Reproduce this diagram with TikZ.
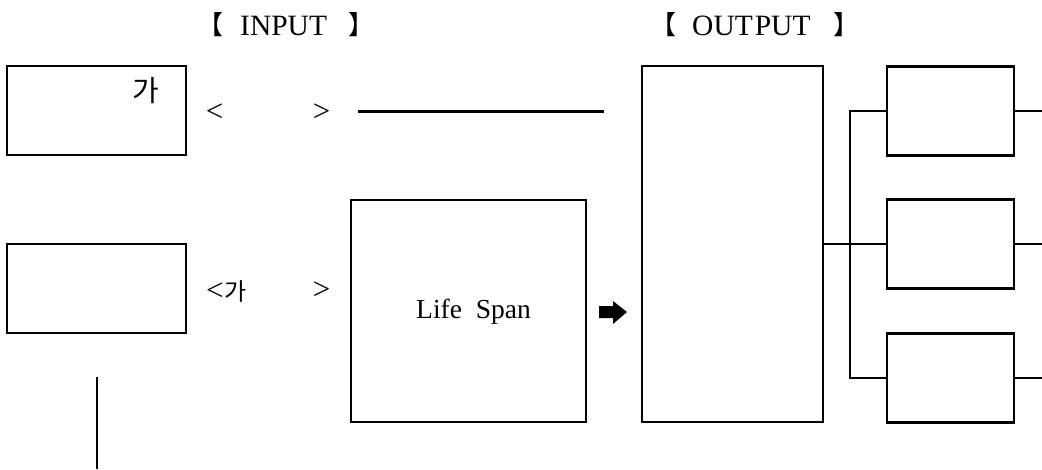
\documentclass[tikz,border=0pt]{standalone}
\usepackage{fontspec}
\setmainfont{Liberation Serif}
\newfontfamily\kr{Noto Sans CJK KR}
\begin{document}
\begin{tikzpicture}[x=1pt,y=-1pt,
  box/.style={draw,line width=2.6pt,inner sep=0pt,outer sep=0pt},
  wire/.style={line width=2.6pt},
  ttl/.style={inner sep=0pt,font=\fontsize{29.5}{32}\selectfont},
  brk/.style={inner sep=0pt,font=\kr\fontsize{26}{30}\selectfont},
  lbl/.style={inner sep=0pt,font=\fontsize{31}{34}\selectfont}]
\useasboundingbox (0,0) rectangle (1042,469);
% titles
\node[ttl,anchor=base west] (tin) at (240,35) {INPUT};
\node[brk,anchor=east] (tinl) at (224,25) {【};
\node[brk,anchor=west] (tinr) at (348,25) {】};
\node[ttl,anchor=base west] (tout) at (692,35) {OUT\hspace{2pt}PUT};
\node[brk,anchor=east] (toutl) at (677,25) {【};
\node[brk,anchor=west] (toutr) at (833,25) {】};
% input boxes
\node[box,minimum width=179pt,minimum height=89pt] (a1) at (96.5,110.5) {};
\node[box,minimum width=179pt,minimum height=89pt] (a2) at (96.5,288.5) {};
\node[inner sep=0pt,font=\kr\fontsize{29}{32}\selectfont] (ga1) at (146,91) {가};
\node[lbl] (lt1) at (214.5,113) {<};
\node[lbl] (gt1) at (321.5,113) {>};
\node[lbl,anchor=west] (lt2) at (206,291) {<\hspace{0.5pt}{\kr\fontsize{24}{28}\selectfont 가}};
\node[lbl] (gt2) at (321.5,291) {>};
\coordinate (v1) at (97,377);
\coordinate (v2) at (97,469);
\draw[wire] (v1) -- (v2);
\coordinate (h1) at (358,111);
\coordinate (h2) at (604,111);
\draw[line width=3pt] (h1) -- (h2);
% life span
\node[box,minimum width=235pt,minimum height=222pt] (ls) at (468.5,311) {};
\node[inner sep=0pt,font=\fontsize{27.5}{30}\selectfont] (lstxt) at (473.5,312) {Life\ \ Span};
% arrow
\fill (599,306) -- (613,306) -- (613,301) -- (627,312) -- (613,324) -- (613,318) -- (599,318) -- cycle;
% output big box
\node[box,minimum width=181pt,minimum height=356pt] (big) at (732.5,244) {};
% small boxes
\node[box,minimum width=127pt,minimum height=89pt] (s1) at (950.5,111) {};
\node[box,minimum width=127pt,minimum height=89pt] (s2) at (950.5,244) {};
\node[box,minimum width=127pt,minimum height=89pt] (s3) at (950.5,378) {};
\coordinate (j1) at (850,111);
\coordinate (j2) at (850,244);
\coordinate (j3) at (850,378);
\draw[wire] (big.east) -- (s2.west);
\draw[wire] (s1.west) -- (j1) -- (j3) -- (s3.west);
\coordinate (r1) at (1042,111);
\coordinate (r2) at (1042,244);
\coordinate (r3) at (1042,378);
\draw[wire] (s1.east) -- (r1);
\draw[wire] (s2.east) -- (r2);
\draw[wire] (s3.east) -- (r3);
\end{tikzpicture}
\end{document}
